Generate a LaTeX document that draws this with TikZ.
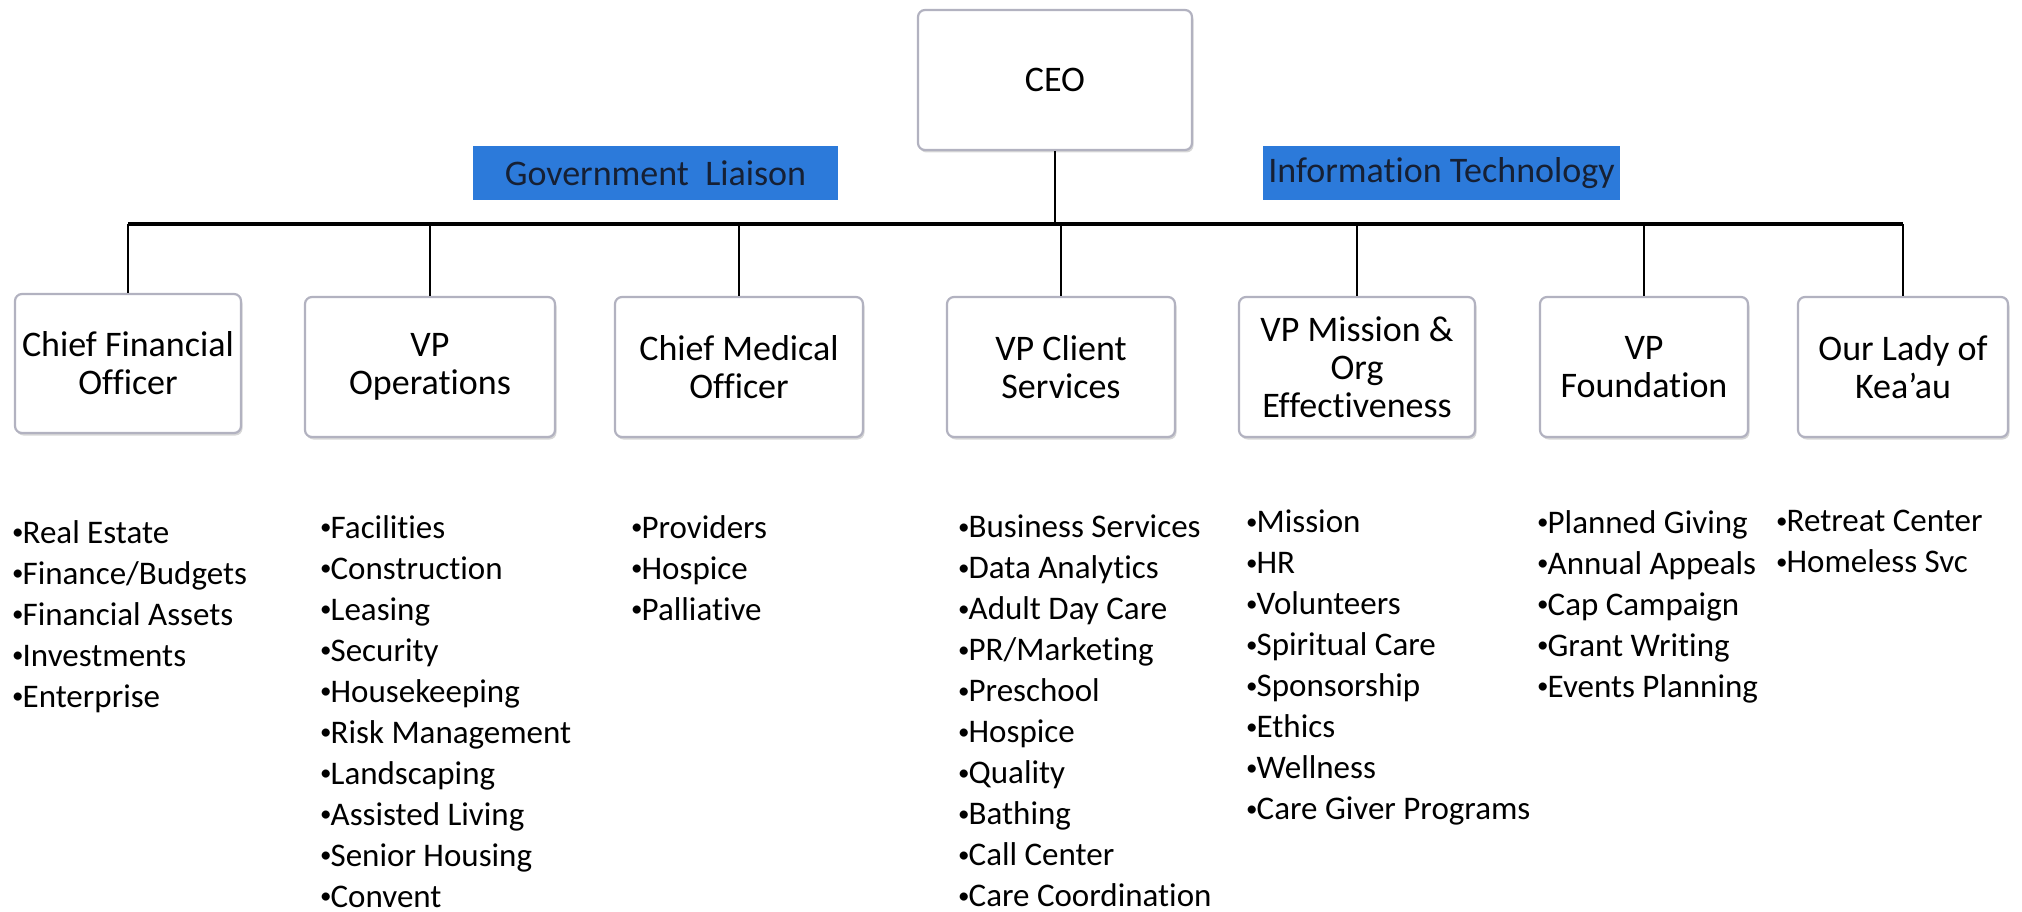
\documentclass[tikz,border=0pt]{standalone}
\usepackage{fontspec}
\setmainfont{Carlito}[Ligatures=NoCommon]
\usetikzlibrary{shadows}
\definecolor{boxline}{RGB}{178,178,192}
\definecolor{liaison}{RGB}{44,122,218}
\definecolor{liaisontext}{RGB}{22,32,52}
\newcommand{\dutydot}{\raisebox{3.5pt}{\fontsize{23}{23}\selectfont •}\kern-1pt}
\tikzstyle{post}=
[
	rectangle
	, rounded corners=7pt
	, draw=boxline
	, line width=2.2pt
	, fill=white
	, align=center
	, inner sep=0pt
	, font=\fontsize{36}{38}\selectfont
	, drop shadow={shadow xshift=1.5pt, shadow yshift=-2.5pt, opacity=0.45, fill=gray!70}
]
\tikzstyle{staff}=
[
	rectangle
	, fill=liaison
	, text=liaisontext
	, minimum height=54pt
	, inner sep=0pt
	, font=\fontsize{36}{38}\selectfont
]
\tikzstyle{duties}=
[
	anchor=north west
	, align=left
	, inner sep=0pt
	, font=\fontsize{33}{41}\selectfont
]
\tikzstyle{bus} = [line width=4pt,-]
\tikzstyle{line} = [line width=2.5pt,-]

\begin{document}
\begin{tikzpicture}[x=1pt,y=-1pt]
\useasboundingbox (0,0) rectangle (2022,912);

\node(ceo)[post, minimum width=274pt, minimum height=140pt] at (1055,80) {CEO};
\node(gov)[staff, minimum width=365pt] at (655.5,173) {Government~~Liaison};
\node(it)[staff, minimum width=357pt] at (1441.5,173) {Information Technology};

\node(cfo)[post, minimum width=226pt, minimum height=139pt] at (128,363.5) {Chief Financial\\Officer};
\node(ops)[post, minimum width=250pt, minimum height=140pt] at (430,367) {VP\\Operations};
\node(cmo)[post, minimum width=248pt, minimum height=140pt] at (739,367) {Chief Medical\\Officer};
\node(cli)[post, minimum width=228pt, minimum height=140pt] at (1061,367) {VP Client\\Services};
\node(mis)[post, minimum width=236pt, minimum height=140pt] at (1357,367) {VP Mission \&\\Org\\Effectiveness};
\node(fnd)[post, minimum width=208pt, minimum height=140pt] at (1644,367) {VP\\Foundation};
\node(olk)[post, minimum width=210pt, minimum height=140pt] at (1903,367) {Our Lady of\\Kea’au};

\coordinate(bar) at (0,224);
\draw[line](ceo.south)--(ceo.south |- bar);
\draw[bus](cfo.north |- bar)--(olk.north |- bar);
\draw[line](cfo.north)--(cfo.north |- bar);
\draw[line](ops.north)--(ops.north |- bar);
\draw[line](cmo.north)--(cmo.north |- bar);
\draw[line](cli.north)--(cli.north |- bar);
\draw[line](mis.north)--(mis.north |- bar);
\draw[line](fnd.north)--(fnd.north |- bar);
\draw[line](olk.north)--(olk.north |- bar);

\node(cfolist)[duties] at (12,520) {\dutydot Real Estate\\\dutydot Finance/Budgets\\\dutydot Financial Assets\\\dutydot Investments\\\dutydot Enterprise};
\node(opslist)[duties] at (320,515) {\dutydot Facilities\\\dutydot Construction\\\dutydot Leasing\\\dutydot Security\\\dutydot Housekeeping\\\dutydot Risk Management\\\dutydot Landscaping\\\dutydot Assisted Living\\\dutydot Senior Housing\\\dutydot Convent};
\node(cmolist)[duties] at (631,515) {\dutydot Providers\\\dutydot Hospice\\\dutydot Palliative};
\node(clilist)[duties] at (958,515) {\dutydot Business Services\\\dutydot Data Analytics\\\dutydot Adult Day Care\\\dutydot PR/Marketing\\\dutydot Preschool\\\dutydot Hospice\\\dutydot Quality\\\dutydot Bathing\\\dutydot Call Center\\\dutydot Care Coordination};
\node(mislist)[duties] at (1246,510) {\dutydot Mission\\\dutydot HR\\\dutydot Volunteers\\\dutydot Spiritual Care\\\dutydot Sponsorship\\\dutydot Ethics\\\dutydot Wellness\\\dutydot Care Giver Programs};
\node(fndlist)[duties] at (1537,510) {\dutydot Planned Giving\\\dutydot Annual Appeals\\\dutydot Cap Campaign\\\dutydot Grant Writing\\\dutydot Events Planning};
\node(olklist)[duties] at (1776,510) {\dutydot Retreat Center\\\dutydot Homeless Svc};

\end{tikzpicture}
\end{document}
